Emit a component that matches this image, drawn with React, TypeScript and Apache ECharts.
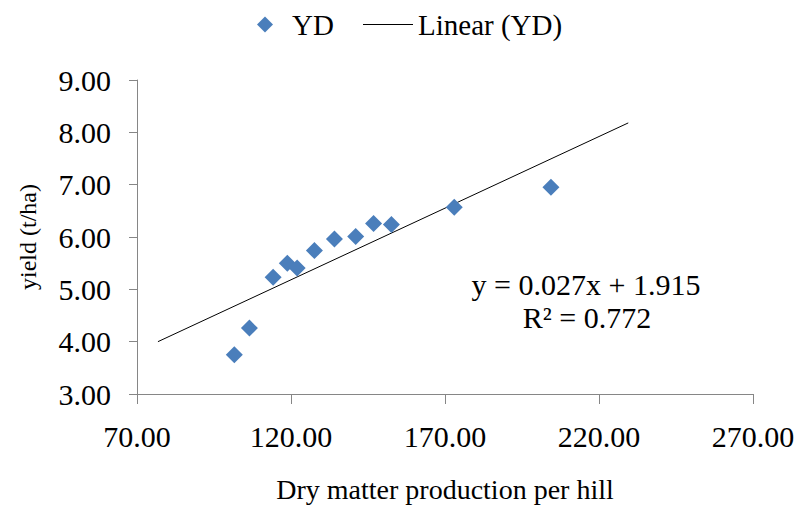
import React, { useEffect, useRef } from "react";
import * as echarts from "echarts";

const dryMatter = [101.6, 106.5, 114.2, 118.8, 122.0, 127.6, 134.1, 141.0, 146.8, 152.6, 173.0, 204.4];
const yieldValues = [3.75, 4.26, 5.23, 5.5, 5.41, 5.74, 5.96, 6.01, 6.26, 6.24, 6.57, 6.95];
const trendX = [76.8, 229.5];
const trendY = [4.0, 8.18];
const equationText = "y = 0.027x + 1.915";
const r2Text = "R\u00B2 = 0.772";

const FONT = '"Liberation Serif", "Times New Roman", serif';

export default function App() {
  const ref = useRef<HTMLDivElement>(null);
  useEffect(() => {
    if (!ref.current) return;
    const chart = echarts.init(ref.current, null, { renderer: "svg" });
    const scatterData = dryMatter.map((x, i) => [x, yieldValues[i]]);
    const trendData = trendX.map((x, i) => [x, trendY[i]]);
    chart.setOption({
      animation: false,
      backgroundColor: "#ffffff",
      grid: {
        left: 137,
        right: 44,
        top: 80,
        bottom: 112,
        containLabel: false,
        outerBoundsMode: "none",
      },
      legend: [
        {
          data: [{ name: "YD", icon: "diamond" }],
          left: 252,
          top: 5,
          itemWidth: 16,
          itemHeight: 16,
          textStyle: { fontFamily: FONT, fontSize: 29, color: "#000", padding: [0, 0, 0, 14] },
        },
        {
          data: [{ name: "Linear (YD)", icon: "rect" }],
          left: 358,
          top: 5,
          itemWidth: 50,
          itemHeight: 1,
          itemGap: 0,
          textStyle: { fontFamily: FONT, fontSize: 29, color: "#000" },
        },
      ],
      xAxis: {
        type: "value",
        min: 70,
        max: 270,
        interval: 50,
        name: "Dry matter production per hill",
        nameLocation: "middle",
        nameGap: 81,
        nameTextStyle: { fontFamily: FONT, fontSize: 28, color: "#000" },
        axisLine: { show: true, lineStyle: { color: "#868686", width: 1 } },
        axisTick: { show: true, length: 10, inside: false, lineStyle: { color: "#868686" } },
        axisLabel: {
          fontFamily: FONT,
          fontSize: 30,
          color: "#000",
          margin: 27,
          formatter: (v: number) => v.toFixed(2),
        },
        splitLine: { show: false },
      },
      yAxis: {
        type: "value",
        min: 3,
        max: 9,
        interval: 1,
        name: "yield (t/ha)",
        nameLocation: "middle",
        nameGap: 97,
        nameRotate: 90,
        nameTextStyle: { fontFamily: FONT, fontSize: 24, color: "#000" },
        axisLine: { show: true, lineStyle: { color: "#868686", width: 1 } },
        axisTick: { show: true, length: 8, inside: false, lineStyle: { color: "#868686" } },
        axisLabel: {
          fontFamily: FONT,
          fontSize: 30,
          color: "#000",
          margin: 26,
          formatter: (v: number) => v.toFixed(2),
        },
        splitLine: { show: false },
      },
      series: [
        {
          name: "YD",
          type: "scatter",
          symbol: "diamond",
          symbolSize: 17,
          itemStyle: { color: "#4A7EBB", opacity: 1 },
          data: scatterData,
          z: 3,
        },
        {
          name: "Linear (YD)",
          type: "line",
          symbol: "none",
          showSymbol: false,
          lineStyle: { color: "#000000", width: 1 },
          itemStyle: { color: "#000000" },
          data: trendData,
          z: 2,
        },
      ],
      graphic: [
        {
          type: "text",
          x: 586,
          y: 284,
          style: {
            text: equationText,
            fontFamily: FONT,
            fontSize: 30,
            fill: "#000",
            align: "center",
            verticalAlign: "middle",
          },
        },
        {
          type: "text",
          x: 587,
          y: 317,
          style: {
            text: r2Text,
            fontFamily: FONT,
            fontSize: 30,
            fill: "#000",
            align: "center",
            verticalAlign: "middle",
          },
        },
      ],
    });
    return () => chart.dispose();
  }, []);
  return (
    <div
      ref={ref}
      style={{ position: "fixed", left: 0, top: 0, width: 797, height: 506 }}
    />
  );
}
